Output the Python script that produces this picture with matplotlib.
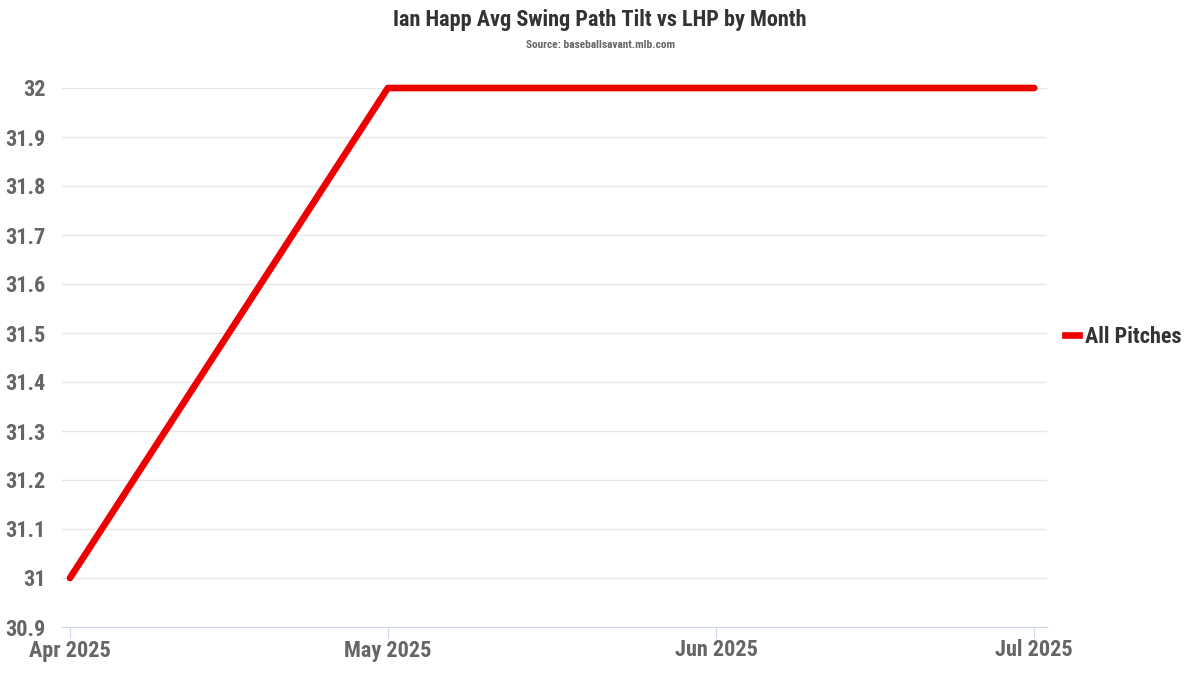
import matplotlib
matplotlib.use("Agg")
import matplotlib.pyplot as plt
from matplotlib.lines import Line2D
import datetime as dt

months = ["2025-04-01", "2025-05-01", "2025-06-01", "2025-07-01"]
tick_labels = ["Apr 2025", "May 2025", "Jun 2025", "Jul 2025"]
values = [31.0, 32.0, 32.0, 32.0]
series_name = "All Pitches"
y_ticks = [30.9, 31.0, 31.1, 31.2, 31.3, 31.4, 31.5, 31.6, 31.7, 31.8, 31.9, 32.0]
y_labels = ["30.9", "31", "31.1", "31.2", "31.3", "31.4", "31.5", "31.6", "31.7", "31.8", "31.9", "32"]

plt.rcParams['font.family'] = ['Roboto Condensed', 'Liberation Sans Narrow', 'Roboto', 'DejaVu Sans']

dates = [dt.datetime.strptime(m, "%Y-%m-%d") for m in months]

fig = plt.figure(figsize=(12, 6.75), dpi=100)
W, H = 1200, 675
ax = fig.add_axes([62 / W, (H - 627) / H, (1047 - 62) / W, (627 - 88) / H])

ax.plot(dates, values, color="#ee0000", lw=4.8, solid_capstyle="round",
        solid_joinstyle="round", clip_on=False, zorder=3)

ax.set_ylim(30.9, 32.0)
ax.set_yticks(y_ticks)
ax.set_yticklabels(y_labels)
ax.set_xlim(dates[0] - dt.timedelta(days=0.75), dates[-1] + dt.timedelta(days=1.2))
ax.set_xticks(dates)
ax.set_xticklabels(tick_labels)

ax.grid(axis="y", color="#e6e6e6", lw=1)
ax.set_axisbelow(True)
for s in ["top", "right", "left"]:
    ax.spines[s].set_visible(False)
ax.spines["bottom"].set_color("#ccd6eb")
ax.tick_params(axis="y", length=0, pad=12, labelsize=16, labelcolor="#666666")
ax.tick_params(axis="x", length=8, color="#ccd6eb", pad=1, labelsize=16, labelcolor="#666666")
for lab in ax.get_xticklabels() + ax.get_yticklabels():
    lab.set_fontweight("bold")

fig.text(0.5, 1 - 20 / H, "Ian Happ Avg Swing Path Tilt vs LHP by Month", ha="center", va="center",
         fontsize=16, fontweight="bold", color="#333333")
fig.text(0.5, 1 - 45 / H, "Source: baseballsavant.mlb.com", ha="center", va="center",
         fontsize=8.2, fontweight="bold", color="#666666")

handle = Line2D([0], [0], color="#ee0000", lw=4.8)
leg = fig.legend([handle], [series_name], loc="center left",
                 bbox_to_anchor=(1065 / W, 1 - 337 / H), frameon=False,
                 borderpad=0, borderaxespad=0,
                 handlelength=0.65, handletextpad=0.25, prop={"size": 16, "weight": "bold"})
for t in leg.get_texts():
    t.set_color("#333333")

fig.savefig("out.png", dpi=100)
